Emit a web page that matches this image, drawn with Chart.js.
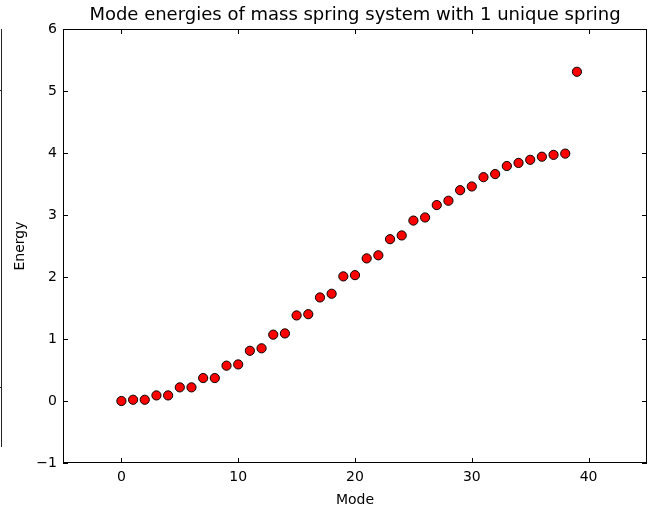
<!DOCTYPE html>
<html>
<head>
<meta charset="utf-8">
<script src="https://cdn.jsdelivr.net/npm/chart.js@4.4.1/dist/chart.umd.min.js"></script>
<style>
    html, body { margin: 0; padding: 0; background: #fff; }
</style>
</head>
<body>
<canvas id="modeChart" width="650" height="510"></canvas>
<script>
// data
const modes = [0, 1, 2, 3, 4, 5, 6, 7, 8, 9,
               10, 11, 12, 13, 14, 15, 16, 17, 18, 19,
               20, 21, 22, 23, 24, 25, 26, 27, 28, 29,
               30, 31, 32, 33, 34, 35, 36, 37, 38, 39];
const energies = [0.00, 0.02, 0.02, 0.09, 0.09, 0.22, 0.22, 0.37, 0.37, 0.57,
                  0.59, 0.81, 0.85, 1.07, 1.09, 1.38, 1.40, 1.67, 1.73, 2.01,
                  2.03, 2.30, 2.35, 2.61, 2.67, 2.91, 2.96, 3.16, 3.23, 3.40,
                  3.46, 3.61, 3.66, 3.79, 3.84, 3.89, 3.94, 3.97, 3.99, 5.31];
const xTicks = [0, 10, 20, 30, 40];
const yTicks = [-1, 0, 1, 2, 3, 4, 5, 6];

const fontFamily = "'DejaVu Sans', sans-serif";

// matplotlib style frame: box round the axes and ticks pointing inwards
const frameTicks = {
    id: 'frameTicks',
    afterDraw(chart) {
        const { ctx, chartArea: a, scales: { x, y } } = chart;
        const len = 5;
        ctx.save();
        ctx.strokeStyle = '#000';
        ctx.lineWidth = 1;
        ctx.beginPath();
        xTicks.forEach(v => {
            const px = Math.round(x.getPixelForValue(v)) + 0.5;
            ctx.moveTo(px, a.bottom); ctx.lineTo(px, a.bottom - len);
            ctx.moveTo(px, a.top); ctx.lineTo(px, a.top + len);
        });
        yTicks.forEach(v => {
            const py = Math.round(y.getPixelForValue(v)) + 0.5;
            ctx.moveTo(a.left, py); ctx.lineTo(a.left + len, py);
            ctx.moveTo(a.right, py); ctx.lineTo(a.right - len, py);
        });
        ctx.stroke();
        ctx.strokeRect(a.left + 0.5, a.top + 0.5, a.width - 1, a.height - 1);

        // edge of the neighbouring panel cut off at the left
        ctx.strokeStyle = '#222';
        ctx.beginPath();
        ctx.moveTo(1.5, a.top); ctx.lineTo(1.5, 447);
        ctx.moveTo(1.5, 90.5); ctx.lineTo(0, 90.5);
        ctx.moveTo(1.5, 387.5); ctx.lineTo(0, 387.5);
        ctx.stroke();
        ctx.restore();
    }
};

const ctx = document.getElementById('modeChart');
new Chart(ctx.getContext('2d'), {
    type: 'scatter',
    data: {
        datasets: [{
            data: modes.map((m, i) => ({ x: m, y: energies[i] })),
            backgroundColor: '#ff0000',
            borderColor: '#000',
            borderWidth: 1,
            pointRadius: 4.6,
            pointHoverRadius: 4.6
        }]
    },
    options: {
        responsive: false,
        animation: false,
        devicePixelRatio: 1,
        events: [],
        layout: { autoPadding: false, padding: { left: 0, right: 3, top: 0, bottom: 0 } },
        scales: {
            x: {
                type: 'linear',
                min: -5,
                max: 45,
                afterBuildTicks: s => { s.ticks = xTicks.map(v => ({ value: v })); },
                afterFit: s => {
                    s.height = 47;
                    s.paddingLeft = 0;
                    s.paddingRight = 0;
                },
                grid: { display: false, drawTicks: false },
                border: { display: false },
                ticks: {
                    padding: 6,
                    color: '#000',
                    font: { family: fontFamily, size: 14 },
                    callback: v => String(v).replace('-', '\u2212')
                },
                title: {
                    display: true,
                    text: 'Mode',
                    color: '#000',
                    font: { family: fontFamily, size: 14 },
                    padding: { top: 0, bottom: 1 }
                }
            },
            y: {
                type: 'linear',
                min: -1,
                max: 6,
                afterBuildTicks: s => { s.ticks = yTicks.map(v => ({ value: v })); },
                afterFit: s => { s.width = 63; },
                grid: { display: false, drawTicks: false },
                border: { display: false },
                ticks: {
                    padding: 6,
                    color: '#000',
                    font: { family: fontFamily, size: 14 },
                    callback: v => String(v).replace('-', '\u2212')
                },
                title: {
                    display: true,
                    text: 'Energy',
                    color: '#000',
                    font: { family: fontFamily, size: 14 },
                    padding: { top: 12, bottom: 0 }
                }
            }
        },
        plugins: {
            legend: { display: false },
            tooltip: { enabled: false },
            title: {
                display: true,
                fullSize: false,
                text: 'Mode energies of mass spring system with 1 unique spring',
                color: '#000',
                font: { family: fontFamily, size: 18, weight: 'normal' },
                padding: { top: 4.4, bottom: 3 }
            }
        }
    },
    plugins: [frameTicks]
});
</script>
</body>
</html>
